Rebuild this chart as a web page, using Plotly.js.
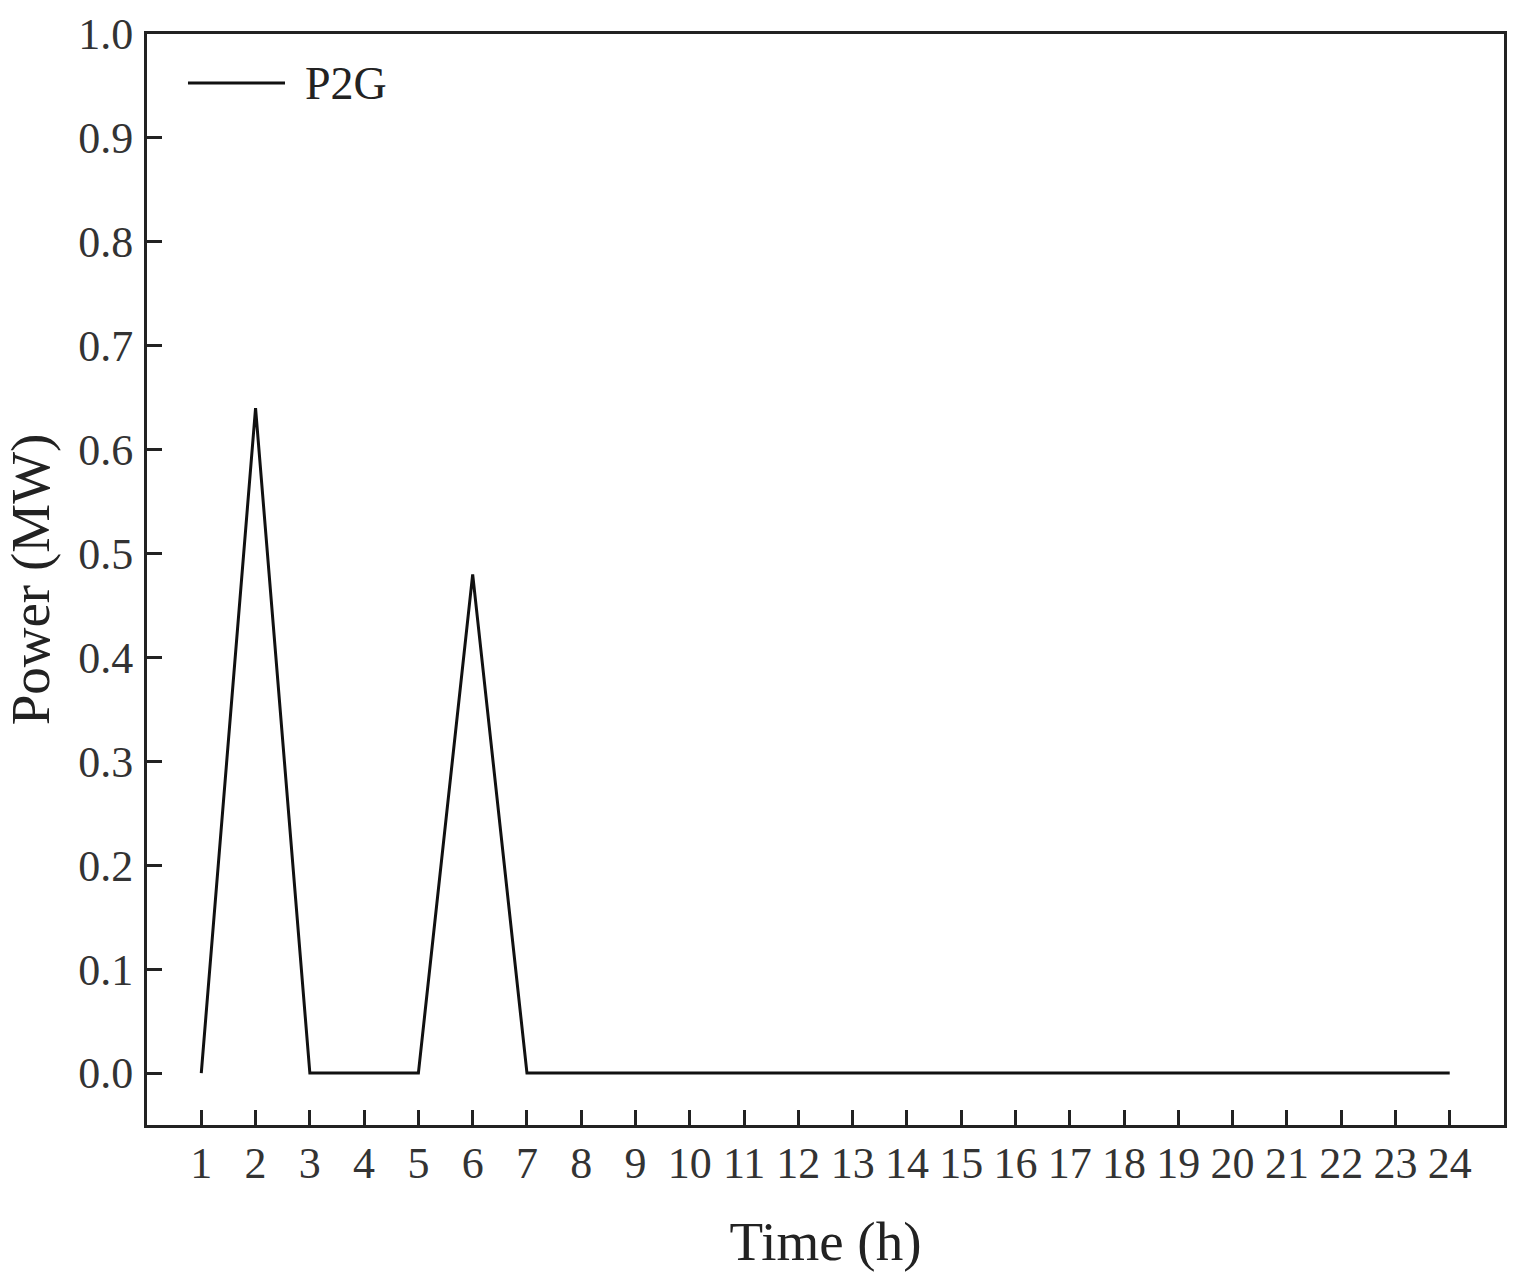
<!DOCTYPE html>
<html>
<head>
<meta charset="utf-8">
<script src="https://cdn.plot.ly/plotly-3.0.1.min.js"></script>
<style>html,body{margin:0;padding:0;background:#fff;}#chart{width:1520px;height:1279px;}</style>
</head>
<body>
<div id="chart"></div>
<script>
const hours = [1,2,3,4,5,6,7,8,9,10,11,12,13,14,15,16,17,18,19,20,21,22,23,24];
const p2g   = [0,0.64,0,0,0,0.48,0,0,0,0,0,0,0,0,0,0,0,0,0,0,0,0,0,0];
const seriesName = 'P2G';
const xTitle = 'Time (h)';
const yTitle = 'Power (MW)';

const font = 'Liberation Serif, Times New Roman, serif';
const lineColor = '#111';
const axisCommon = {
  showline: true, linecolor: '#222', linewidth: 3, mirror: true,
  ticks: 'inside', ticklen: 15, tickwidth: 3, tickcolor: '#222',
  showgrid: false, zeroline: false,
  tickfont: {family: font, size: 44, color: '#333'}
};
const layout = {
  width: 1520, height: 1279,
  margin: {l: 147, r: 16, t: 34, b: 154},
  paper_bgcolor: '#fff', plot_bgcolor: '#fff',
  showlegend: false,
  xaxis: Object.assign({}, axisCommon, {
    range: [0, 25], tickmode: 'array', tickvals: hours, ticktext: hours.map(String),
    ticklabelstandoff: -3,
    title: {text: xTitle, font: {family: font, size: 55, color: '#222'}, standoff: 35}
  }),
  yaxis: Object.assign({}, axisCommon, {
    range: [-0.05, 1.0], tickmode: 'linear', tick0: 0, dtick: 0.1, tickformat: '.1f',
    ticklabelstandoff: 2,
    title: {text: yTitle, font: {family: font, size: 55, color: '#222'}, standoff: 14}
  }),
  // legend key drawn as a line + label (reference uses a long legend line)
  shapes: [{type: 'line', xref: 'paper', yref: 'paper', x0: 0.0302, x1: 0.1017, y0: 0.955, y1: 0.955,
            line: {color: lineColor, width: 3}}],
  annotations: [{xref: 'paper', yref: 'paper', x: 0.1150, y: 0.955, xanchor: 'left', yanchor: 'middle',
                 text: seriesName, showarrow: false, font: {family: font, size: 46, color: '#222'}}]
};
Plotly.newPlot('chart', [{
  x: hours, y: p2g, name: seriesName, type: 'scatter', mode: 'lines',
  line: {color: lineColor, width: 3}
}], layout, {displayModeBar: false, staticPlot: true});
</script>
</body>
</html>
